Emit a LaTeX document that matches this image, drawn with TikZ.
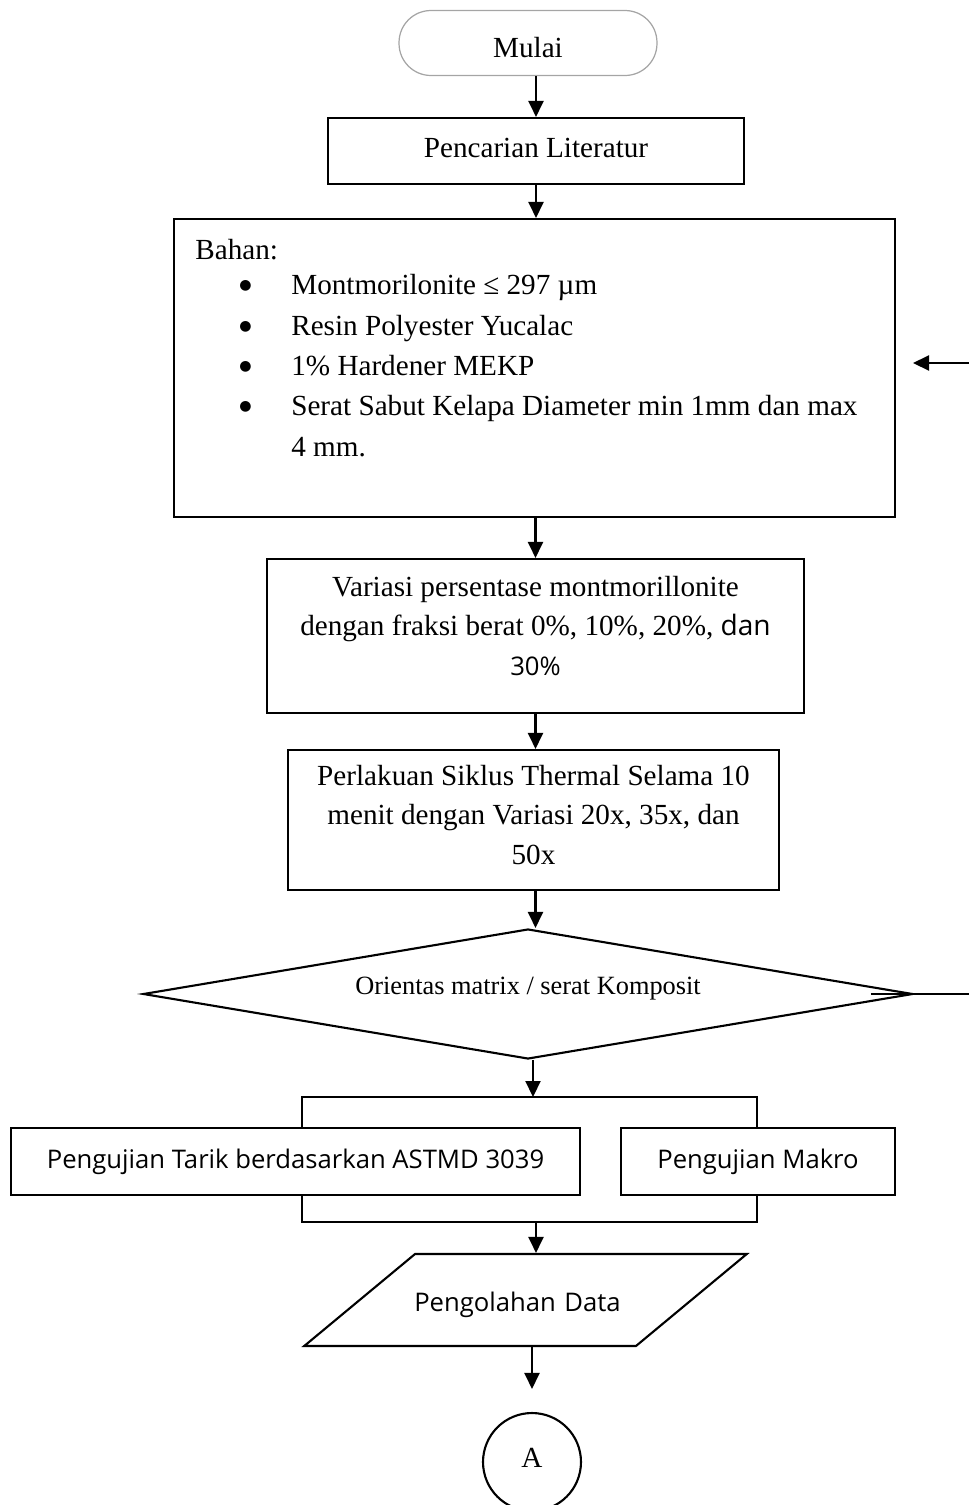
\documentclass[tikz,border=0pt]{standalone}
\usepackage{fontspec}
\setmainfont{Liberation Serif}
\newfontfamily\sansfont{Open Sans}
\newfontfamily\simbol{DejaVu Sans}
\usetikzlibrary{arrows.meta, positioning, calc, shapes.geometric}
\definecolor{softgray}{RGB}{165, 165, 165}
\newcommand{\sansteks}{\sansfont\fontsize{14.6}{22.7}\selectfont}
\newcommand{\butir}{\hspace*{0.88cm}\makebox[1.04cm][l]{\raisebox{0.1cm}{\simbol\fontsize{8}{10}\selectfont ●}}}
\newcommand{\geser}[2]{\raisebox{#1}[\height][\depth]{#2}}

\tikzset{
    prosesbox/.style={rectangle, draw, line width=1.2pt, align=center, font=\fontsize{16.6}{22.7}\selectfont},
    alur/.style={-{Triangle[length=0.32cm,width=0.3cm]}, line width=1.2pt},
    garis/.style={line width=1.2pt}
}

\begin{document}
\begin{tikzpicture}[x=0.02cm, y=-0.02cm]
\useasboundingbox (0,0) rectangle (969,1505);

% simbol mulai
\node[
    rectangle,
    rounded corners=0.64cm,
    draw=softgray,
    line width=0.7pt,
    minimum width=5.16cm,
    minimum height=1.3cm,
    font=\fontsize{16.6}{20}\selectfont
] (mulai) at (528,43) {\geser{-0.1cm}{Mulai}};

\node[prosesbox, minimum width=8.32cm, minimum height=1.32cm] (literatur) at (536,151) {\geser{0.06cm}{Pencarian Literatur}};

% kotak bahan
\node[prosesbox, minimum width=14.42cm, minimum height=5.96cm] (bahan) at (534.5,368) {};
\node[
    anchor=north west,
    inner sep=0pt,
    align=left,
    font=\fontsize{16.6}{23}\selectfont
] (bahanisi) at (195,239) {Bahan:\\[-3pt]
    \butir Montmorilonite ≤ 297 µm\\
    \butir Resin Polyester Yucalac\\
    \butir 1\% Hardener MEKP\\
    \butir Serat Sabut Kelapa Diameter min 1mm dan max\\
    \hspace*{1.92cm}4 mm.};

\node[prosesbox, minimum width=10.74cm, minimum height=3.08cm] (variasi) at (535.5,636)
    {\geser{0.16cm}{\begin{tabular}{@{}c@{}}Variasi persentase montmorillonite\\dengan fraksi berat 0\%, 10\%, 20\%, {\sansteks\fontsize{16}{22.7}\selectfont dan}\\{\sansteks 30\%}\end{tabular}}};

\node[prosesbox, minimum width=9.82cm, minimum height=2.8cm] (perlakuan) at (533.5,820)
    {\geser{0.06cm}{\begin{tabular}{@{}c@{}}Perlakuan Siklus Thermal Selama 10\\menit dengan Variasi 20x, 35x, dan\\50x\end{tabular}}};

% keputusan
\node[
    diamond,
    draw,
    line width=1.2pt,
    shape aspect=5.92,
    minimum width=15.4cm,
    minimum height=2.6cm,
    inner sep=0pt,
    font=\fontsize{15}{18}\selectfont
] (orientasi) at (528,994) {\geser{0.1cm}{Orientas matrix / serat Komposit}};

% pengujian
\node[prosesbox, font=\sansteks, minimum width=11.38cm, minimum height=1.34cm] (tarik) at (295.5,1161.5) {Pengujian Tarik berdasarkan ASTMD 3039};
\node[prosesbox, font=\sansteks, minimum width=5.48cm, minimum height=1.34cm] (makro) at (758,1161.5) {Pengujian Makro};

\node[
    trapezium,
    draw,
    line width=1.2pt,
    trapezium left angle=39.7,
    trapezium right angle=140.3,
    inner sep=0pt,
    text width=4.42cm,
    text height=1.14cm,
    text depth=0.7cm,
    align=center,
    font=\sansteks
] (data) at (525.5,1300) {\hspace*{-0.32cm}Pengolahan Data};

\node[circle, draw, line width=1.2pt, minimum size=1.96cm, font=\fontsize{16.6}{20}\selectfont] (lingkaranA) at (532,1462) {\geser{0.08cm}{A}};

\coordinate (bagi) at (533,1097);
\coordinate (bagikiri) at (302,1097);
\coordinate (bagikanan) at (757,1097);
\coordinate (gabungkiri) at (302,1222);
\coordinate (gabungkanan) at (757,1222);
\coordinate (gabung) at (536,1222);
\coordinate (umpanbalik) at (913,363);

% alur
\draw[alur] (mulai.south -| literatur.north) -- (literatur.north);
\draw[alur] (literatur.south) -- (literatur.south |- bahan.north);
\draw[alur] (bahan.south -| variasi.north) -- (variasi.north);
\draw[alur] (variasi.south) -- (variasi.south |- perlakuan.north);
\draw[alur] (perlakuan.south -| variasi.south) -- (variasi.south |- orientasi.north);
\draw[alur] (orientasi.south -| bagi) -- (bagi);
\draw[garis] (bagikiri |- tarik.north) -- (bagikiri) -- (bagikanan) -- (bagikanan |- makro.north);
\draw[garis] (gabungkiri |- tarik.south) -- (gabungkiri) -- (gabungkanan) -- (gabungkanan |- makro.south);
\draw[alur] (gabung) -- (gabung |- data.north);
\draw[alur] (data.south -| lingkaranA.north) -- ([yshift=0.46cm]lingkaranA.north);
\draw[alur] ([xshift=-0.86cm]orientasi.east) -- (990,994) |- (umpanbalik);
\end{tikzpicture}
\end{document}
